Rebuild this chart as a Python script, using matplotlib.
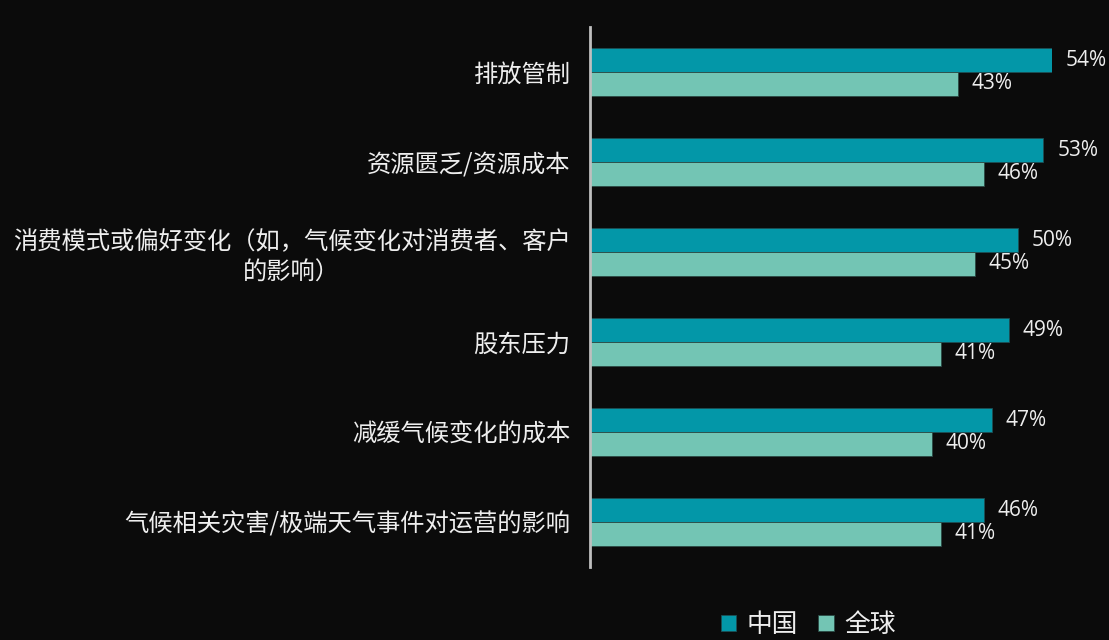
import matplotlib
matplotlib.use("Agg")
import matplotlib.pyplot as plt
import numpy as np

plt.rcParams["font.family"] = ["Noto Sans CJK SC", "DejaVu Sans"]

# data
categories = [
    "排放管制",
    "资源匮乏/资源成本",
    "消费模式或偏好变化（如，气候变化对消费者、客户\n的影响）",
    "股东压力",
    "减缓气候变化的成本",
    "气候相关灾害/极端天气事件对运营的影响",
]
china = [54, 53, 50, 49, 47, 46]
world = [43, 46, 45, 41, 40, 41]
series_names = ["中国", "全球"]

BG = "#0b0b0b"
C_CHINA = "#0397a8"
C_WORLD = "#73c5b4"
TXT = "#eeeeee"

fig = plt.figure(figsize=(11.09, 6.40), dpi=100)
fig.patch.set_facecolor(BG)
ax = fig.add_axes([590 / 1109, 73 / 640, 462 / 1109, 540 / 640])
ax.set_facecolor(BG)

y = np.arange(len(categories))
h = 0.265
b1 = ax.barh(y - h / 2, china, height=h, color=C_CHINA, edgecolor="#1d4f55", linewidth=0.6, label=series_names[0])
b2 = ax.barh(y + h / 2, world, height=h, color=C_WORLD, edgecolor="#2a4a44", linewidth=0.6, label=series_names[1])

for bars, vals in ((b1, china), (b2, world)):
    for bar, v in zip(bars, vals):
        ax.text(v + 1.6, bar.get_y() + bar.get_height() / 2, f"{v}%",
                ha="left", va="center", color=TXT, fontsize=15,
                family=["Open Sans", "DejaVu Sans"], clip_on=False)

ax.set_xlim(0, 54)
ax.set_ylim(len(categories) - 0.5, -0.5)
ax.set_yticks(y)
ax.set_yticklabels(categories, fontsize=17.5, color=TXT, linespacing=1.25)
for lbl in ax.get_yticklabels():
    lbl.set_multialignment("center")
ax.tick_params(axis="y", length=0, pad=14)
ax.set_xticks([])
for s in ("top", "right", "bottom"):
    ax.spines[s].set_visible(False)
ax.spines["left"].set_color("#bfbfbf")
ax.spines["left"].set_linewidth(2)

leg = fig.legend(handles=[b1, b2], labels=series_names, loc="center",
                 bbox_to_anchor=(808 / 1109, 1 - 625 / 640), ncol=2, frameon=False,
                 fontsize=18.5, labelcolor=TXT, handlelength=0.6, handleheight=0.6,
                 handletextpad=0.4, columnspacing=0.8)

fig.savefig("out.png", dpi=100, facecolor=fig.get_facecolor())
